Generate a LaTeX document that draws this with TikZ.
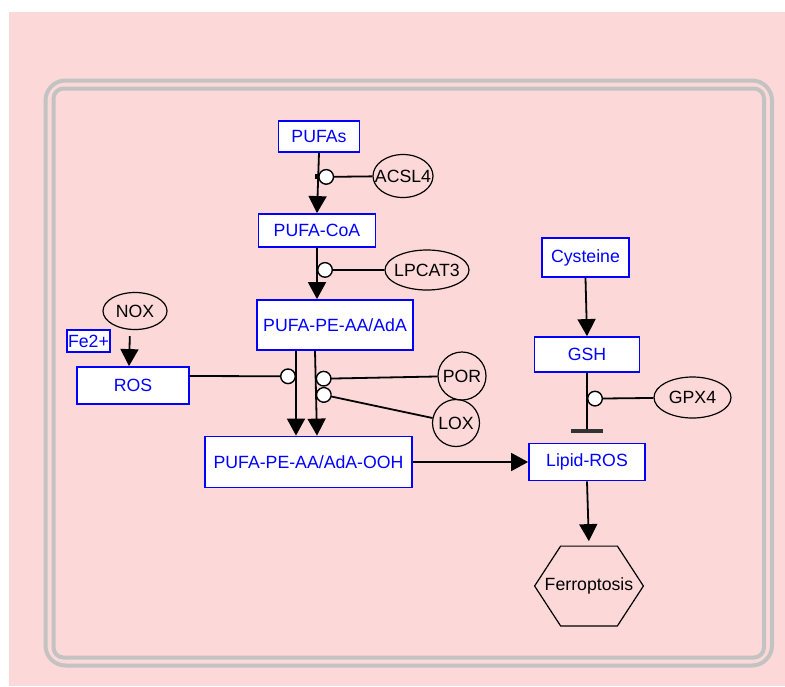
\documentclass[tikz,border=0pt]{standalone}
\usepackage{fontspec}
\setmainfont{Liberation Sans}
\usetikzlibrary{arrows.meta,shapes.geometric,calc}

\definecolor{cellpink}{RGB}{253,216,216}
\definecolor{membrane}{RGB}{195,195,195}
\definecolor{entityblue}{RGB}{0,0,255}

\begin{document}
\begin{tikzpicture}[ x=1pt, y=-1pt
                   , line width=1.8pt
                   , font=\fontsize{17.7}{20}\selectfont
                   , box/.style={rectangle, draw=entityblue, fill=white, text=entityblue, inner sep=0}
                   , macro/.style={ellipse, draw, line width=1.2pt, inner sep=0}
                   , arrow/.style={-{Triangle[length=17pt, width=18pt]}}
                   , catal/.style={-{Circle[length=16pt, fill=white, line width=1.4pt]}}
                   , inhib/.style={-{Bar[width=32pt, line width=4pt, color=black!80]}, shorten >=10pt}
                   ]
	\useasboundingbox (0, 0) rectangle (785, 686);
	
	% Background and cell membrane
	\fill [cellpink] (9, 12) rectangle (785, 686);
	\foreach \inset/\radius in {0/20pt, 8/10pt}{
		\draw [membrane, line width=4pt, rounded corners=\radius]
		      (45.5 + \inset, 80.5 + \inset)
		      rectangle
		      (772 - \inset, 665.5 - \inset);
	}
	
	% Species
	\node (pufas) at (319, 136.5)
	      [ box
	      , minimum width=81pt
	      , minimum height=31pt]
	      {PUFAs};
	\node (pufaCoa) at (317, 230.5)
	      [ box
	      , minimum width=117pt
	      , minimum height=33pt]
	      {PUFA-CoA};
	\node (pufaPe) at (335, 325)
	      [ box
	      , minimum width=156pt
	      , minimum height=50pt]
	      {PUFA-PE-AA/AdA};
	\node (pufaOoh) at (308.5, 462)
	      [ box
	      , minimum width=207pt
	      , minimum height=51pt]
	      {PUFA-PE-AA/AdA-OOH};
	\node (ros) at (133, 385.5)
	      [ box
	      , minimum width=112pt
	      , minimum height=37pt]
	      {ROS};
	\node (fe) at (88.5, 341)
	      [ box
	      , minimum width=43pt
	      , minimum height=22pt]
	      {Fe2+};
	\node (cysteine) at (585.5, 257.5)
	      [ box
	      , minimum width=87pt
	      , minimum height=39pt]
	      {Cysteine};
	\node (gsh) at (587, 354.5)
	      [ box
	      , minimum width=105pt
	      , minimum height=35pt]
	      {GSH};
	\node (lipidRos) at (587, 462)
	      [ box
	      , minimum width=116pt
	      , minimum height=37pt]
	      {Lipid-ROS};
	
	% Enzymes
	\node (acsl4) at (403, 176)
	      [ macro
	      , minimum width=60pt
	      , minimum height=43pt]
	      {\makebox[0pt]{ACSL4}};
	\node (lpcat3) at (427, 270)
	      [ macro
	      , minimum width=84pt
	      , minimum height=40pt]
	      {\makebox[0pt]{LPCAT3}};
	\node (nox) at (135, 311)
	      [ macro
	      , minimum width=64pt
	      , minimum height=37pt]
	      {\makebox[0pt]{NOX}};
	\node (por) at (462, 376)
	      [ macro
	      , circle
	      , minimum size=48pt]
	      {\makebox[0pt]{POR}};
	\node (lox) at (456, 423)
	      [ macro
	      , circle
	      , minimum size=47pt]
	      {\makebox[0pt]{LOX}};
	\node (gpx4) at (692.5, 397.5)
	      [ macro
	      , minimum width=77pt
	      , minimum height=41pt]
	      {\makebox[0pt]{GPX4}};
	
	% Phenotype
	\node (ferro) at (589, 586)
	      [ minimum width=107pt
	      , minimum height=78pt
	      , inner sep=0]
	      {Ferroptosis};
	\draw [line width=1.2pt]
	      (ferro.west)
	      -- ([xshift=26pt]ferro.north west)
	      -- ([xshift=-26pt]ferro.north east)
	      -- (ferro.east)
	      -- ([xshift=-26pt]ferro.south east)
	      -- ([xshift=26pt]ferro.south west)
	      -- cycle;
	
	% Ends of the two oxidation reactions
	\coordinate (peLeft) at ([xshift=-39pt]pufaPe.south);
	\coordinate (peRight) at ([xshift=-20pt]pufaPe.south);
	\coordinate (oohLeft) at ([xshift=-12.5pt]pufaOoh.north);
	\coordinate (oohRight) at ([xshift=8.5pt]pufaOoh.north);
	
	% Reactions
	\draw [arrow] (pufas.south) -- (pufaCoa.north);
	\draw [arrow] (pufaCoa.south) -- (pufaCoa.south |- pufaPe.north);
	\draw [arrow] (peLeft) -- (oohLeft);
	\draw [arrow] (peRight) -- (oohRight);
	\draw [arrow] (pufaOoh.east) -- (lipidRos.west);
	\draw [arrow] (cysteine.south) -- (gsh.north);
	\draw [inhib] (gsh.south) -- (lipidRos.north);
	\draw [arrow, shorten >=5pt] (lipidRos.south) -- (ferro.north);
	\draw [arrow, shorten <=6pt] ([xshift=-5pt]nox.south) -- ([xshift=-4pt]ros.north);
	
	% Process points on the reactions
	\coordinate (procAcsl) at ($(pufas.south)!0.4!(pufaCoa.north)$);
	\coordinate (procLpcat) at ($(pufaCoa.south)!0.43!(pufaCoa.south |- pufaPe.north)$);
	\coordinate (procRos) at ($(peLeft)!0.3!(oohLeft)$);
	\coordinate (procPor) at ($(peRight)!0.33!(oohRight)$);
	\coordinate (procLox) at ($(peRight)!0.5!(oohRight)$);
	\coordinate (procGpx) at ($(gsh.south)!0.37!(lipidRos.north)$);
	\fill (procAcsl) +(-3.5, -2.5) rectangle +(1.5, 2.5);
	
	% Catalysis
	\draw [catal] (acsl4) -- (procAcsl);
	\draw [catal] (lpcat3) -- (procLpcat);
	\draw [catal] ([yshift=9.5pt]ros.east) -- (procRos);
	\draw [catal] (por) -- (procPor);
	\draw [catal] (lox) -- (procLox);
	\draw [catal] (gpx4) -- (procGpx);
	
\end{tikzpicture}
\end{document}
